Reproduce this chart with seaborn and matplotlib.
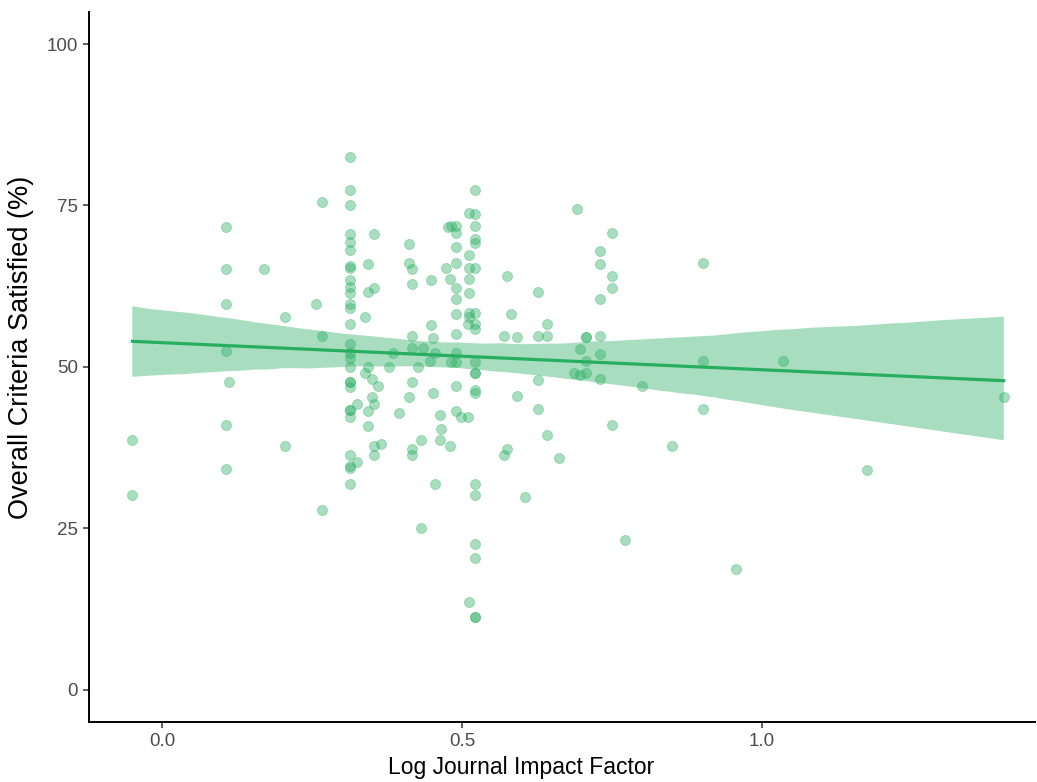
import numpy as np
import pandas as pd
import matplotlib
import seaborn as sns
from matplotlib import pyplot as plt
matplotlib.use('Agg')

# log journal impact factor (x) and overall criteria satisfied in % (y)
log_if = [
    -0.05, -0.05,
    0.106, 0.106, 0.106, 0.106, 0.106, 0.106, 0.111, 0.17, 0.205, 0.205, 0.256,
    0.266, 0.266, 0.266,
    0.313, 0.313, 0.313, 0.313, 0.313, 0.313, 0.313, 0.313, 0.313, 0.313, 0.313,
    0.313, 0.313, 0.313, 0.313, 0.313, 0.313, 0.313, 0.313, 0.313, 0.313, 0.313,
    0.313, 0.313, 0.313, 0.313, 0.313, 0.313,
    0.324, 0.324, 0.338, 0.338, 0.343, 0.343, 0.343, 0.343, 0.343, 0.349, 0.349,
    0.353, 0.353, 0.353, 0.353, 0.353, 0.359, 0.364, 0.378, 0.384, 0.394,
    0.411, 0.411, 0.411, 0.416, 0.416, 0.416, 0.416, 0.416, 0.416, 0.416,
    0.426, 0.431, 0.431, 0.434, 0.446, 0.448, 0.448, 0.451, 0.451, 0.454, 0.454,
    0.463, 0.465, 0.463, 0.473, 0.476, 0.479, 0.479, 0.481, 0.481,
    0.489, 0.489, 0.489, 0.489, 0.489, 0.489, 0.489, 0.489, 0.489, 0.489, 0.489,
    0.489, 0.498, 0.509, 0.509,
    0.511, 0.511, 0.511, 0.511, 0.511, 0.511, 0.511, 0.511,
    0.521, 0.521, 0.521, 0.521, 0.521, 0.521, 0.521, 0.521, 0.521, 0.521, 0.521,
    0.521, 0.521, 0.521, 0.521, 0.521, 0.521, 0.521, 0.521, 0.521,
    0.569, 0.569, 0.574, 0.574, 0.582, 0.592, 0.592, 0.604,
    0.627, 0.627, 0.627, 0.627, 0.641, 0.641, 0.641, 0.661,
    0.687, 0.692, 0.697, 0.697, 0.707, 0.707, 0.707, 0.707,
    0.729, 0.729, 0.729, 0.729, 0.729, 0.729, 0.749, 0.749, 0.749, 0.749,
    0.772, 0.799, 0.850, 0.902, 0.902, 0.902, 0.957, 1.035, 1.175, 1.403,
]
criteria = [
    38.6, 30.2,
    71.6, 65.1, 59.7, 52.4, 40.9, 34.1, 47.6, 65.1, 57.7, 37.7, 59.7,
    75.5, 54.7, 27.8,
    82.5, 77.4, 75.0, 70.5, 69.3, 68.1, 65.6, 65.3, 63.4, 62.3, 61.4,
    59.7, 59.1, 56.6, 53.5, 52.1, 51.3, 49.9, 47.6, 47.6, 46.8, 43.3,
    43.3, 42.2, 36.3, 34.7, 34.3, 31.8,
    44.3, 35.2, 57.7, 49.0, 65.9, 61.6, 49.9, 43.1, 40.8, 48.1, 45.3,
    70.5, 62.2, 44.3, 37.7, 36.3, 47.0, 38.0, 49.9, 52.2, 42.8,
    69.0, 66.0, 45.3, 65.1, 62.8, 54.7, 52.9, 47.6, 37.2, 36.3,
    49.9, 38.6, 25.0, 52.9, 50.9, 63.4, 56.4, 54.4, 46.0, 52.2, 31.9,
    42.6, 40.3, 38.6, 65.3, 71.6, 63.6, 37.7, 71.8, 50.7,
    71.8, 70.7, 68.5, 66.0, 62.2, 60.5, 58.1, 55.0, 52.1, 50.7, 47.0,
    43.1, 42.2, 42.2, 56.7,
    73.8, 67.3, 65.3, 63.6, 61.4, 58.4, 57.7, 13.6,
    77.4, 73.6, 71.8, 69.8, 69.1, 65.3, 58.4, 56.7, 55.8, 50.7, 49.0,
    49.0, 46.4, 45.9, 31.9, 30.1, 22.6, 20.3, 11.2, 11.2,
    54.7, 36.4, 64.0, 37.2, 58.1, 54.6, 45.4, 29.8,
    61.6, 54.7, 47.9, 43.4, 56.7, 54.7, 39.5, 35.8,
    49.0, 74.4, 52.7, 48.7, 54.6, 54.6, 50.9, 49.0,
    67.9, 65.9, 60.5, 54.7, 51.9, 48.1, 70.7, 64.0, 62.2, 40.9,
    23.1, 47.0, 37.7, 66.0, 50.9, 43.4, 18.6, 50.9, 34.0, 45.3,
]

df = pd.DataFrame({'log_if': log_if, 'criteria': criteria})

green = '#27ae60'

fig = plt.figure(figsize=(10.37, 7.82), dpi=100)
ax = fig.add_axes([0.086, 0.077, 0.912, 0.908])

sns.regplot(data=df, x='log_if', y='criteria', ax=ax, ci=95, seed=3,
            color=green,
            scatter_kws={'s': 52, 'alpha': 0.4, 'edgecolor': green,
                         'linewidths': 0.6},
            line_kws={'lw': 2.3, 'color': green})

# lighten the confidence band to match ggplot's fill
for coll in ax.collections[1:]:
    coll.set_alpha(0.4)
    coll.set_edgecolor('none')

ax.set_xlim(-0.122, 1.455)
ax.set_ylim(-5, 105)
ax.set_xticks([0.0, 0.5, 1.0])
ax.set_xticklabels(['0.0', '0.5', '1.0'])
ax.set_yticks([0, 25, 50, 75, 100])

for side in ['top', 'right']:
    ax.spines[side].set_visible(False)
for side in ['left', 'bottom']:
    ax.spines[side].set_linewidth(1.4)
    ax.spines[side].set_color('black')

ax.tick_params(axis='both', length=4, width=1.1, color='#333333',
               labelcolor='#4d4d4d', labelsize=13.5, pad=4)
for lab in ax.get_xticklabels() + ax.get_yticklabels():
    lab.set_family('Liberation Sans')

ax.set_xlabel('Log Journal Impact Factor', fontsize=16.5,
              family='Liberation Sans')
ax.set_ylabel('Overall Criteria Satisfied (%)', fontsize=19.5,
              family='Liberation Sans')
ax.xaxis.set_label_coords(0.457, -0.048)
ax.yaxis.set_label_coords(-0.058, 0.527)

plt.savefig('out.png', dpi=100)
